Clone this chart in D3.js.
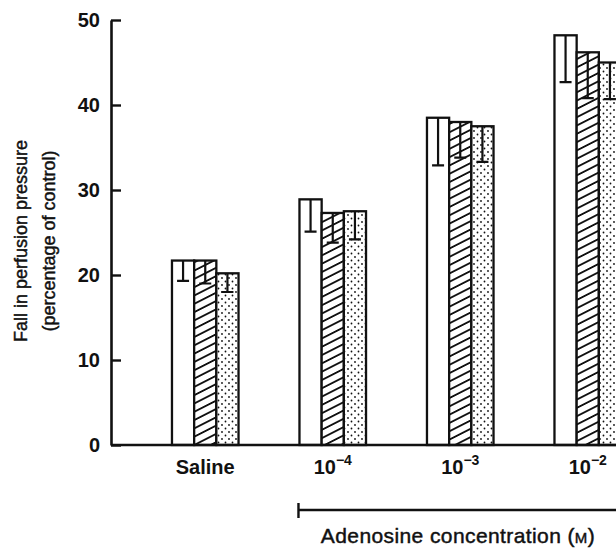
<!DOCTYPE html>
<html>
<head>
<meta charset="utf-8">
<script src="https://cdn.jsdelivr.net/npm/d3@7"></script>
<style>
  body { margin: 0; background: #fff; }
  svg { display: block; overflow: hidden; }
  text { font-family: "Liberation Sans", Arial, sans-serif; fill: #111; }
</style>
</head>
<body>
<div id="chart"></div>
<script>
// data
let groups = ["Saline", "1e-4", "1e-3", "1e-2"];
let groupLabels = [
    {"base": "Saline", "exp": ""},
    {"base": "10", "exp": "\u22124"},
    {"base": "10", "exp": "\u22123"},
    {"base": "10", "exp": "\u22122"}
];
let series = ["open", "hatched", "dotted"];
// mean fall in perfusion pressure (% of control)
let meanOpen = [21.7, 28.9, 38.5, 48.2];
let meanHatched = [21.7, 27.3, 38.0, 46.2];
let meanDotted = [20.2, 27.5, 37.5, 45.0];
// s.e.m. (drawn downward only)
let errOpen = [2.4, 3.8, 5.6, 5.5];
let errHatched = [2.7, 3.5, 4.2, 5.4];
let errDotted = [2.2, 3.3, 4.2, 4.3];
let yTicks = [0, 10, 20, 30, 40, 50];

let width = 616, height = 551;

let svg = d3.select("#chart").append("svg")
    .attr("width", width)
    .attr("height", height);

// patterns for the bars
let defs = svg.append("defs");
let hatch = defs.append("pattern")
    .attr("id", "hatch")
    .attr("patternUnits", "userSpaceOnUse")
    .attr("width", 10)
    .attr("height", 7.4)
    .attr("patternTransform", "rotate(-27)");
hatch.append("rect").attr("width", 10).attr("height", 7.4).attr("fill", "#fff");
hatch.append("line")
    .attr("x1", 0).attr("x2", 10)
    .attr("y1", 3.7).attr("y2", 3.7)
    .attr("stroke", "#111").attr("stroke-width", 1.8);

let dots = defs.append("pattern")
    .attr("id", "dots")
    .attr("patternUnits", "userSpaceOnUse")
    .attr("width", 7)
    .attr("height", 7);
dots.append("rect").attr("width", 7).attr("height", 7).attr("fill", "#fff");
dots.append("circle").attr("cx", 1.5).attr("cy", 1.5).attr("r", 0.9).attr("fill", "#111");
dots.append("circle").attr("cx", 5).attr("cy", 5).attr("r", 0.9).attr("fill", "#111");

let fills = d3.scaleOrdinal()
    .domain(series)
    .range(["#fff", "url(#hatch)", "url(#dots)"]);

// scales
let y = d3.scaleLinear().domain([0, 50]).range([445, 20]);

let x0 = d3.scaleBand()
    .domain(groups)
    .range([141.5, 651.5])
    .paddingInner(0.478)
    .paddingOuter(0.239);

let x1 = d3.scaleBand()
    .domain(series)
    .range([0, x0.bandwidth()]);

let axisX = 111;

// build rows
let rows = [];
groups.forEach(function (g, i) {
    rows.push({group: g, key: "open", value: meanOpen[i], err: errOpen[i]});
    rows.push({group: g, key: "hatched", value: meanHatched[i], err: errHatched[i]});
    rows.push({group: g, key: "dotted", value: meanDotted[i], err: errDotted[i]});
});

// bars
let bars = svg.append("g");
bars.selectAll("rect")
    .data(rows)
    .join("rect")
    .attr("x", d => x0(d.group) + x1(d.key))
    .attr("y", d => y(d.value))
    .attr("width", x1.bandwidth())
    .attr("height", d => y(0) - y(d.value))
    .attr("fill", d => fills(d.key))
    .attr("stroke", "#111")
    .attr("stroke-width", 2.3);

// error bars, drawn down from the bar top
let capW = 12;
let errG = svg.append("g")
    .attr("stroke", "#111")
    .attr("stroke-width", 2.2);
errG.selectAll("path")
    .data(rows)
    .join("path")
    .attr("fill", "none")
    .attr("d", d => {
        let cx = x0(d.group) + x1(d.key) + x1.bandwidth() / 2;
        let lo = y(d.value - d.err);
        return `M${cx},${y(d.value)}V${lo}M${cx - capW / 2},${lo}H${cx + capW / 2}`;
    });

// baseline
svg.append("line")
    .attr("x1", axisX).attr("x2", width + 10)
    .attr("y1", y(0)).attr("y2", y(0))
    .attr("stroke", "#111").attr("stroke-width", 2.4);

// y axis
let yAxis = svg.append("g")
    .attr("transform", `translate(${axisX},0)`)
    .call(d3.axisLeft(y)
        .tickValues(yTicks)
        .tickSizeInner(-10)
        .tickSizeOuter(0)
        .tickPadding(11));
yAxis.select(".domain").attr("stroke", "#111").attr("stroke-width", 2.6);
yAxis.selectAll(".tick line").attr("stroke", "#111").attr("stroke-width", 2.4);
yAxis.selectAll(".tick text")
    .attr("font-size", 20)
    .attr("font-weight", "bold")
    .attr("font-family", "'Liberation Sans', Arial, sans-serif")
    .attr("fill", "#111");

// y axis title
let yTitle = svg.append("text")
    .attr("transform", "translate(27,241) rotate(-90)")
    .attr("text-anchor", "middle")
    .attr("font-size", 18)
    .attr("stroke", "#111")
    .attr("stroke-width", 0.45);
yTitle.append("tspan").attr("x", 0).attr("dy", 0).text("Fall in perfusion pressure");
yTitle.append("tspan").attr("x", 0).attr("dy", 28).text("(percentage of control)");

// x labels
let xl = svg.append("g")
    .selectAll("text")
    .data(groups)
    .join("text")
    .attr("x", d => x0(d) + x0.bandwidth() / 2)
    .attr("y", 474)
    .attr("text-anchor", "middle")
    .attr("font-size", 20)
    .attr("font-weight", "bold");
xl.append("tspan").text((d, i) => groupLabels[i].base);
xl.append("tspan")
    .attr("dy", -9)
    .attr("font-size", 14)
    .text((d, i) => groupLabels[i].exp);

// adenosine bracket
let brX = x0(groups[1]) - 1;
svg.append("path")
    .attr("d", `M${brX},503V518M${brX},510H${width + 10}`)
    .attr("stroke", "#111")
    .attr("stroke-width", 2.4)
    .attr("fill", "none");

let adT = svg.append("text")
    .attr("x", 458)
    .attr("y", 543)
    .attr("text-anchor", "middle")
    .attr("font-size", 21)
    .attr("letter-spacing", 0.4)
    .attr("stroke", "#111")
    .attr("stroke-width", 0.45);
adT.append("tspan").text("Adenosine concentration (");
adT.append("tspan").attr("font-size", 15).text("M");
adT.append("tspan").text(")");
</script>
</body>
</html>
